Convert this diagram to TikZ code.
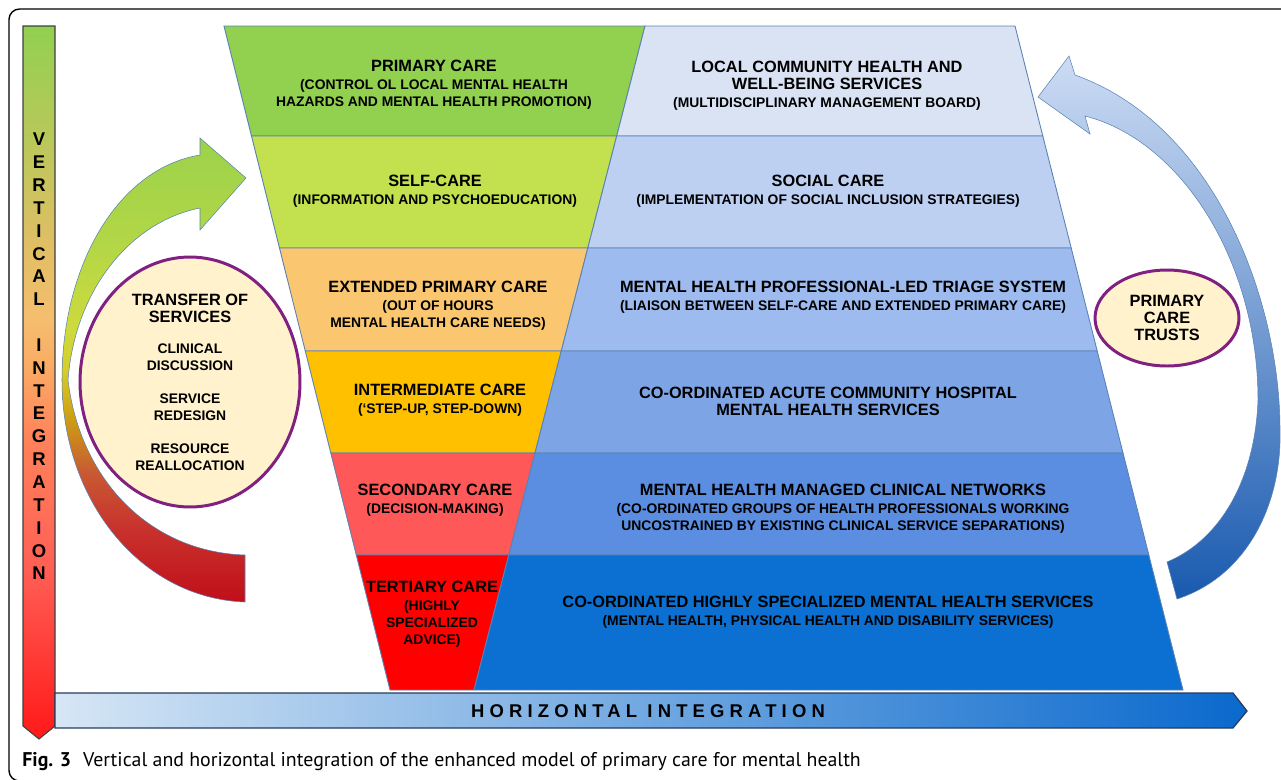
\documentclass[tikz,border=0pt]{standalone}
\usepackage{fontspec}
\setmainfont{Liberation Sans}
\newfontfamily\capfont{PT Sans}
\usetikzlibrary{shapes.geometric}
\definecolor{primGreen}{RGB}{146,208,80}
\definecolor{selfLime}{RGB}{195,224,78}
\definecolor{extOrange}{RGB}{250,198,112}
\definecolor{interGold}{RGB}{255,192,0}
\definecolor{secRed}{RGB}{255,88,88}
\definecolor{terRed}{RGB}{255,0,0}
\definecolor{blueOne}{RGB}{218,227,243}
\definecolor{blueTwo}{RGB}{189,208,242}
\definecolor{blueThree}{RGB}{157,187,238}
\definecolor{blueFour}{RGB}{125,165,230}
\definecolor{blueFive}{RGB}{91,141,224}
\definecolor{blueSix}{RGB}{11,112,210}
\definecolor{bandEdge}{RGB}{90,130,180}
\definecolor{ovalFill}{RGB}{255,242,204}
\definecolor{ovalPurple}{RGB}{128,32,128}
\definecolor{vbOlive}{RGB}{185,200,90}
\definecolor{vbTan}{RGB}{225,190,100}
\definecolor{vbPeach}{RGB}{245,190,110}
\definecolor{vbOrange}{RGB}{250,170,100}
\definecolor{vbSalmon}{RGB}{255,130,90}
\definecolor{vbPink}{RGB}{255,95,85}
\definecolor{vbRed}{RGB}{255,25,25}
\definecolor{laGreen}{RGB}{155,210,75}
\definecolor{laLime}{RGB}{180,215,70}
\definecolor{laYellowGreen}{RGB}{205,218,60}
\definecolor{laYellow}{RGB}{215,205,40}
\definecolor{laOchre}{RGB}{205,155,20}
\definecolor{laRust}{RGB}{200,90,50}
\definecolor{laBrick}{RGB}{200,50,45}
\definecolor{laRed}{RGB}{192,15,25}
\pgfdeclareverticalshading{vertgrad}{100bp}{color(0bp)=(vbRed); color(25bp)=(vbRed); color(37bp)=(vbPink); color(46bp)=(vbSalmon); color(51bp)=(vbOrange); color(54.5bp)=(vbPeach); color(59.5bp)=(vbTan); color(67bp)=(vbOlive); color(75bp)=(primGreen); color(100bp)=(primGreen)}
\pgfdeclareverticalshading{leftgrad}{100bp}{color(0bp)=(laRed); color(25bp)=(laRed); color(33bp)=(laBrick); color(39bp)=(laRust); color(44.5bp)=(laOchre); color(50bp)=(laYellow); color(54.5bp)=(laYellowGreen); color(63bp)=(laLime); color(75bp)=(laGreen); color(100bp)=(laGreen)}
\tikzset{
  band/.style={draw=bandEdge, line width=0.5pt},
  lvl/.style={align=center, inner sep=0pt, font=\bfseries\fontsize{7.9}{9.7}\selectfont},
  ovl/.style={ellipse, draw=ovalPurple, line width=1.7pt, fill=ovalFill, inner sep=0pt, align=center, font=\bfseries\fontsize{7.9}{9.7}\selectfont}
}
\newcommand{\ttl}{\fontsize{9.3}{11}\selectfont}

\begin{document}
\begin{tikzpicture}[x=0.02cm, y=-0.02cm]
\useasboundingbox (0,0) rectangle (1281,779);
\draw[line width=0.8pt, rounded corners=6] (1300,9) -- (9,9) -- (9,781) -- (40,781);

\filldraw[band, fill=primGreen] (224,26) -- (645,26) -- (616.7,136) -- (251.5,136) -- cycle;
\filldraw[band, fill=selfLime] (251.5,136) -- (616.7,136) -- (587.8,248) -- (279.5,248) -- cycle;
\filldraw[band, fill=extOrange] (279.5,248) -- (587.8,248) -- (561.3,351) -- (305.3,351) -- cycle;
\filldraw[band, fill=interGold] (305.3,351) -- (561.3,351) -- (535,453) -- (330.8,453) -- cycle;
\filldraw[band, fill=secRed] (330.8,453) -- (535,453) -- (508.8,555) -- (356.3,555) -- cycle;
\filldraw[band, fill=terRed] (356.3,555) -- (508.8,555) -- (474,690) -- (390,690) -- cycle;
\filldraw[band, fill=blueOne] (645,26) -- (1015,26) -- (1042.8,136) -- (616.7,136) -- cycle;
\filldraw[band, fill=blueTwo] (616.7,136) -- (1042.8,136) -- (1071.2,248) -- (587.8,248) -- cycle;
\filldraw[band, fill=blueThree] (587.8,248) -- (1071.2,248) -- (1097.2,351) -- (561.3,351) -- cycle;
\filldraw[band, fill=blueFour] (561.3,351) -- (1097.2,351) -- (1123,453) -- (535,453) -- cycle;
\filldraw[band, fill=blueFive] (535,453) -- (1123,453) -- (1148.8,555) -- (508.8,555) -- cycle;
\filldraw[band, fill=blueSix] (508.8,555) -- (1148.8,555) -- (1183,690) -- (474,690) -- cycle;

\draw (434,85) node[lvl] (pc) {{\ttl PRIMARY CARE}\\[0.5pt](CONTROL OL LOCAL MENTAL HEALTH\\HAZARDS AND MENTAL HEALTH PROMOTION)};
\draw (435,191) node[lvl] (sc) {{\ttl SELF-CARE}\\[0.5pt](INFORMATION AND PSYCHOEDUCATION)};
\draw (438,306) node[lvl] (epc) {{\ttl EXTENDED PRIMARY CARE}\\[0.5pt](OUT OF HOURS\\MENTAL HEALTH CARE NEEDS)};
\draw (440,400) node[lvl] (ic) {{\ttl INTERMEDIATE CARE}\\[0.5pt](`STEP-UP, STEP-DOWN)};
\draw (435,500) node[lvl] (sec) {{\ttl SECONDARY CARE}\\[0.5pt](DECISION-MAKING)};
\draw (432,614) node[lvl] (tc) {{\ttl TERTIARY CARE}\\[0.5pt](HIGHLY\\SPECIALIZED\\ADVICE)};
\draw (827,86) node[lvl] (lch) {{\ttl LOCAL COMMUNITY HEALTH AND}\\{\ttl WELL-BEING SERVICES}\\[0.5pt](MULTIDISCIPLINARY MANAGEMENT BOARD)};
\draw (828,191) node[lvl] (soc) {{\ttl SOCIAL CARE}\\[0.5pt](IMPLEMENTATION OF SOCIAL INCLUSION STRATEGIES)};
\draw (843,297) node[lvl] (tri) {{\ttl MENTAL HEALTH PROFESSIONAL-LED TRIAGE SYSTEM}\\[0.5pt](LIAISON BETWEEN SELF-CARE AND EXTENDED PRIMARY CARE)};
\draw (828,401) node[lvl] (acu) {{\ttl CO-ORDINATED ACUTE COMMUNITY HOSPITAL}\\{\ttl MENTAL HEALTH SERVICES}};
\draw (843,509) node[lvl] (mcn) {{\ttl MENTAL HEALTH MANAGED CLINICAL NETWORKS}\\[0.5pt](CO-ORDINATED GROUPS OF HEALTH PROFESSIONALS WORKING\\UNCOSTRAINED BY EXISTING CLINICAL SERVICE SEPARATIONS)};
\draw (828,612) node[lvl] (hss) {{\ttl CO-ORDINATED HIGHLY SPECIALIZED MENTAL HEALTH SERVICES}\\[0.5pt](MENTAL HEALTH, PHYSICAL HEALTH AND DISABILITY SERVICES)};

\draw[draw=bandEdge, line width=0.3pt, shading=leftgrad]
  (245,602) .. controls (140,598) and (62,500) .. (62,380)
  .. controls (62,262) and (120,168) .. (200,155)
  -- (200,138) -- (246,178) -- (200,230) -- (200,208)
  .. controls (130,222) and (75,290) .. (68,380)
  .. controls (80,480) and (150,552) .. (245,555) -- cycle;
\draw[draw=bandEdge, line width=0.3pt, shading=axis, top color={rgb,255:red,205;green,220;blue,244}, middle color={rgb,255:red,120;green,160;blue,220}, bottom color={rgb,255:red,25;green,90;blue,175}]
  (1177,599) .. controls (1250,575) and (1282,500) .. (1280,430)
  .. controls (1280,300) and (1215,125) .. (1075,75)
  -- (1069,56) -- (1038,97) -- (1090,134) -- (1085,116)
  .. controls (1180,140) and (1258,260) .. (1258,400)
  .. controls (1255,480) and (1220,540) .. (1167,562) -- cycle;

\draw (190,382) node[ovl, minimum width=4.4cm, minimum height=5cm] (tos) {{\ttl TRANSFER OF}\\{\ttl SERVICES}\\[8pt]CLINICAL\\DISCUSSION\\[9pt]SERVICE\\REDESIGN\\[9pt]RESOURCE\\REALLOCATION};
\draw (1167,318) node[ovl, minimum width=2.88cm, minimum height=1.92cm] (pct) {{\ttl PRIMARY}\\{\ttl CARE}\\{\ttl TRUSTS}};

\draw[draw={rgb,255:red,64;green,64;blue,64}, line width=0.6pt, shading=vertgrad]
  (23,26) -- (55,26) -- (55,726) -- (39,739) -- (23,726) -- cycle;
\draw (39,356.5) node[align=center, inner sep=0pt, font=\bfseries\fontsize{10.5}{13}\selectfont] (vlab) {V\\E\\R\\T\\I\\C\\A\\L\\[13pt]I\\N\\T\\E\\G\\R\\A\\T\\I\\O\\N};
\draw[draw={rgb,255:red,40;green,60;blue,90}, line width=0.7pt, left color={rgb,255:red,214;green,230;blue,245}, middle color={rgb,255:red,90;green,155;blue,225}, right color={rgb,255:red,10;green,105;blue,205}]
  (55,693) -- (1233,693) -- (1247,711) -- (1233,728) -- (55,728) -- cycle;
\draw (648,711) node[inner sep=0pt, font=\bfseries\fontsize{10.5}{12}\selectfont\addfontfeature{LetterSpace=28}] (hlab) {HORIZONTAL INTEGRATION};

\draw (22,762) node[anchor=west, inner sep=0pt, font=\capfont\fontsize{11.3}{13}\selectfont] (cap) {\textbf{Fig. 3}\hspace{0.6em}Vertical and horizontal integration of the enhanced model of primary care for mental health};
\end{tikzpicture}
\end{document}
